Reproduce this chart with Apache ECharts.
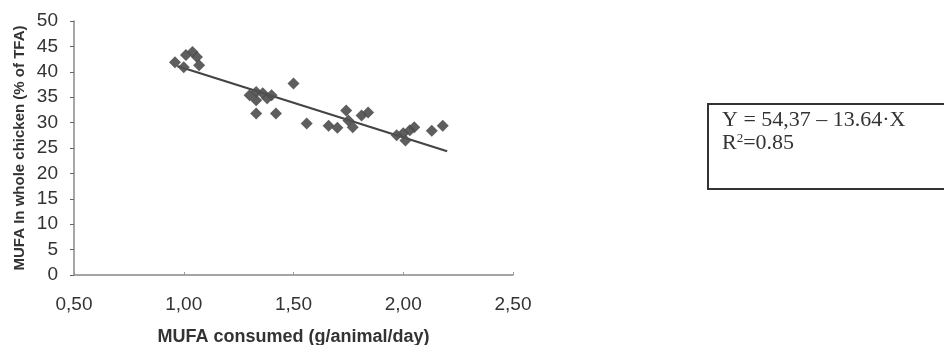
<!DOCTYPE html>
<html>
<head>
<meta charset="utf-8">
<script src="https://cdn.jsdelivr.net/npm/echarts@6/dist/echarts.min.js"></script>
<style>html,body{margin:0;padding:0;background:#fff}#c{width:944px;height:345px}</style>
</head>
<body>
<div id="c"></div>
<script>
// MUFA consumed (g/animal/day)
const xValues = [0.96, 1.01, 1.04, 1.06, 1.00, 1.07,
  1.30, 1.33, 1.36, 1.38, 1.33, 1.40, 1.33, 1.42,
  1.50, 1.56,
  1.66, 1.70, 1.74, 1.75, 1.77, 1.81, 1.84,
  1.97, 2.00, 2.03, 2.05, 2.01, 2.13, 2.18];
// MUFA in whole chicken (% of TFA)
const yValues = [41.9, 43.3, 43.9, 42.9, 40.9, 41.3,
  35.4, 36.0, 35.8, 34.8, 34.4, 35.4, 31.8, 31.8,
  37.7, 29.8,
  29.4, 29.0, 32.4, 30.4, 29.1, 31.4, 32.0,
  27.5, 27.9, 28.5, 29.1, 26.5, 28.4, 29.4];
const xTickLabels = ['0,50', '1,00', '1,50', '2,00', '2,50'];
const yTickLabels = ['0', '5', '10', '15', '20', '25', '30', '35', '40', '45', '50'];
const fitIntercept = 54.37;
const fitSlope = -13.64;
const fitRange = [0.97, 2.2];
const eqLine1 = 'Y = 54,37 – 13.64·X';
const r2Value = '0.85';

const points = xValues.map((x, i) => [x, yValues[i]]);
const fitLine = fitRange.map(x => [x, fitIntercept + fitSlope * x]);

const chart = echarts.init(document.getElementById('c'));
chart.setOption({
  animation: false,
  backgroundColor: '#fff',
  grid: { left: 74, right: 431, top: 21, bottom: 70, containLabel: false, outerBoundsMode: 'none' },
  xAxis: {
    type: 'value', min: 0.5, max: 2.5, interval: 0.5,
    name: 'MUFA consumed (g/animal/day)', nameLocation: 'middle', nameGap: 53,
    nameTextStyle: { fontFamily: 'Liberation Sans', fontWeight: 'bold', fontSize: 18, color: '#333' },
    axisLine: { lineStyle: { color: '#888', width: 1.5 } },
    axisTick: { show: true, inside: true, length: 3, lineStyle: { color: '#999' } },
    splitLine: { show: false },
    axisLabel: {
      fontFamily: 'Liberation Sans', fontSize: 19, color: '#333', margin: 20,
      formatter: v => xTickLabels[Math.round((v - 0.5) / 0.5)] || ''
    }
  },
  yAxis: {
    type: 'value', min: 0, max: 50, interval: 5,
    name: 'MUFA In whole chicken (% of TFA)', nameLocation: 'middle', nameGap: 47,
    nameTextStyle: { fontFamily: 'Liberation Sans', fontWeight: 'bold', fontSize: 15, color: '#333' },
    axisLine: { show: true, lineStyle: { color: '#888', width: 1.5 } },
    axisTick: { show: true, length: 4, lineStyle: { color: '#666' } },
    splitLine: { show: false },
    axisLabel: {
      fontFamily: 'Liberation Sans', fontSize: 19, color: '#333', margin: 16,
      formatter: v => yTickLabels[Math.round(v / 5)] || ''
    }
  },
  series: [
    {
      type: 'line', data: fitLine, symbol: 'none', z: 2,
      lineStyle: { color: '#444', width: 2.2 }
    },
    {
      type: 'scatter', data: points, symbol: 'diamond', symbolSize: 12, z: 3,
      itemStyle: { color: '#505050', opacity: 0.92 }
    }
  ],
  graphic: [
    {
      type: 'rect', left: 707, top: 103,
      shape: { width: 245, height: 85 },
      style: { fill: '#fff', stroke: '#333', lineWidth: 2 }
    },
    {
      type: 'text', left: 722, top: 109,
      style: {
        text: eqLine1 + '\n{r|R}{s|2}{r|=' + r2Value + '}',
        fontFamily: 'Liberation Serif', fontSize: 22, fill: '#333', lineHeight: 23,
        rich: {
          r: { fontFamily: 'Liberation Serif', fontSize: 22, fill: '#333' },
          s: { fontFamily: 'Liberation Serif', fontSize: 13, fill: '#333', verticalAlign: 'top', padding: [0, 0, 10, 0] }
        }
      }
    }
  ]
});
</script>
</body>
</html>
